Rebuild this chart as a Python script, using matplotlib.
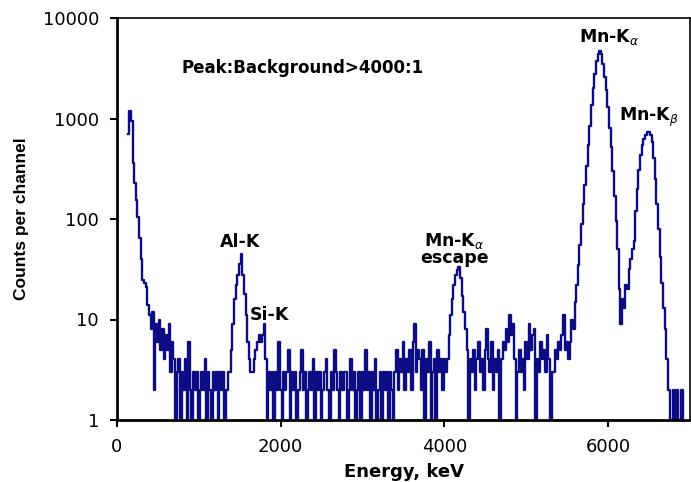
import numpy as np
import matplotlib
matplotlib.use("Agg")
import matplotlib.pyplot as plt

# channel energies (20 eV per channel) and counts
energy = np.arange(140, 6940, 20)
counts = [
    700, 1200, 950, 360, 230, 155, 105, 65, 40, 25,
    23, 21, 14, 11, 8, 12, 2, 9, 6, 10,
    5, 8, 4, 7, 5, 9, 3, 6, 4, 1,
    3, 4, 1, 3, 2, 4, 1, 6, 2, 1,
    3, 2, 3, 1, 2, 3, 2, 4, 1, 3,
    2, 1, 3, 2, 3, 1, 3, 2, 3, 1,
    2, 3, 3, 5, 9, 16, 22, 28, 36, 45,
    28, 18, 11, 6, 4, 3, 3, 4, 5, 6,
    7, 6, 7, 9, 4, 1, 3, 2, 3, 1,
    3, 2, 6, 2, 1, 3, 2, 3, 5, 1,
    3, 2, 3, 1, 2, 3, 5, 2, 3, 1,
    2, 3, 2, 4, 1, 3, 2, 3, 1, 2,
    3, 4, 2, 1, 3, 2, 5, 3, 2, 1,
    3, 2, 3, 3, 1, 2, 4, 2, 3, 1,
    2, 3, 1, 3, 2, 5, 2, 3, 1, 3,
    2, 4, 1, 2, 3, 1, 3, 2, 3, 1,
    3, 2, 1, 3, 5, 2, 4, 3, 6, 2,
    4, 3, 5, 2, 6, 9, 3, 5, 4, 2,
    5, 1, 4, 3, 6, 1, 3, 4, 1, 5,
    3, 4, 2, 4, 3, 4, 7, 11, 16, 22,
    28, 31, 33, 26, 17, 12, 8, 5, 1, 4,
    3, 5, 2, 4, 6, 3, 4, 2, 5, 8,
    4, 3, 6, 2, 4, 3, 5, 1, 4, 6,
    5, 8, 6, 11, 7, 9, 4, 1, 3, 5,
    3, 4, 2, 6, 4, 9, 5, 7, 8, 1,
    4, 3, 6, 4, 5, 3, 7, 4, 1, 3,
    3, 5, 4, 6, 5, 7, 11, 5, 6, 4,
    6, 10, 8, 15, 22, 35, 55, 90, 140, 220,
    340, 540, 850, 1350, 2000, 2800, 3700, 4400, 4700, 4400,
    3500, 2600, 1900, 1300, 800, 520, 300, 170, 95, 50,
    20, 9, 16, 13, 22, 20, 32, 40, 50, 60,
    120, 200, 310, 430, 540, 630, 690, 730, 740, 690,
    580, 400, 250, 140, 80, 42, 23, 13, 8, 4,
    2, 1, 1, 2, 1, 2, 1, 1, 2, 1,
]

x_ticks = [0, 2000, 4000, 6000]
y_ticks = [1, 10, 100, 1000, 10000]
y_ticklabels = ["1", "10", "100", "1000", "10000"]

# peak labels: (text, energy, counts)
peak_labels = [
    ("Al-K", 1500, 59),
    ("Si-K", 1865, 11),
    ("Mn-K$_\\alpha$\nescape", 4120, 50),
    ("Mn-K$_\\alpha$", 6010, 6400),
    ("Mn-K$_\\beta$", 6500, 1030),
]

line_color = "#0c0c84"

fig = plt.figure(figsize=(6.91, 4.82), dpi=100)
ax = fig.add_axes([117 / 691, 62 / 482, 573 / 691, 402 / 482])

ax.plot(energy, counts, color=line_color, lw=1.7, drawstyle="steps-mid")

ax.set_yscale("log")
ax.set_xlim(0, 7000)
ax.set_ylim(1, 10000)
ax.set_xticks(x_ticks)
ax.set_xticklabels([str(v) for v in x_ticks])
ax.set_yticks(y_ticks)
ax.set_yticklabels(y_ticklabels)
ax.minorticks_off()
ax.tick_params(axis="both", direction="out", length=5, width=1.5,
               labelsize=13, pad=8)

for side in ["left", "bottom"]:
    ax.spines[side].set_linewidth(2)
for side in ["top", "right"]:
    ax.spines[side].set_linewidth(1.2)

ax.set_xlabel("Energy, keV", fontsize=13, fontweight="bold", labelpad=5)
ax.set_ylabel("Counts per channel", fontsize=12.5, fontweight="bold",
              family=["Liberation Sans Narrow", "Liberation Sans"], labelpad=10)

ax.text(790, 3170, "Peak:Background>4000:1", fontsize=12,
        fontweight="bold", va="center", ha="left")

for txt, xe, yc in peak_labels:
    ax.text(xe, yc, txt, fontsize=12.5, fontweight="bold",
            ha="center", va="center", linespacing=0.85)

plt.savefig("out.png", dpi=100)
